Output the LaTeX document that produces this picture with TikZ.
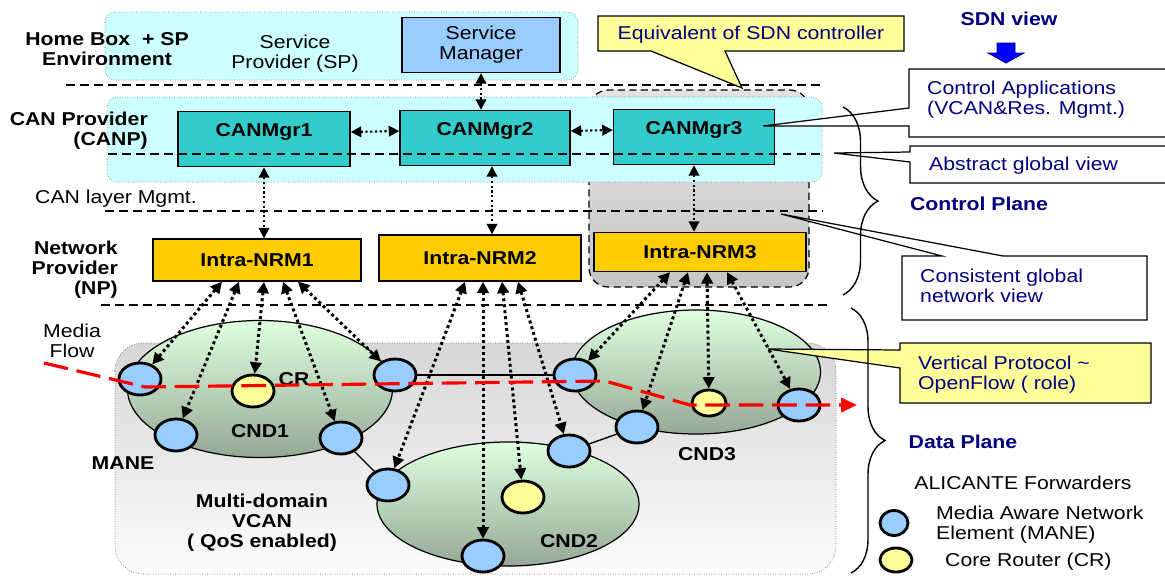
\documentclass[tikz,border=0pt]{standalone}
\usepackage{fontspec}
\setmainfont{Liberation Sans}[FakeStretch=1.14]
\usetikzlibrary{shapes.geometric,arrows.meta,calc,decorations.pathreplacing}
\definecolor{cyanbg}{HTML}{CCFFFF}
\definecolor{smblue}{HTML}{99CCFF}
\definecolor{mgrteal}{HTML}{33CCCC}
\definecolor{nrmgold}{HTML}{FFCC00}
\definecolor{noteyel}{HTML}{FFFF99}
\definecolor{navy}{HTML}{000080}
\definecolor{mintl}{HTML}{DFFFDF}
\definecolor{mintd}{HTML}{95A895}
\newlength\px
\setlength\px{0.02cm}
\newcommand\dfont{\fontsize{10.6}{11.4}\selectfont}

\begin{document}
\begin{tikzpicture}[x=0.02cm, y=-0.02cm, font=\dfont,
  mgr/.style={draw, line width=0.8pt, fill=mgrteal, font=\dfont\bfseries, text height=7.6pt, text depth=10.2pt, minimum height=55\px},
  nrm/.style={draw, line width=0.8pt, fill=nrmgold, font=\dfont\bfseries},
  mane/.style={ellipse, draw, line width=1.6pt, fill=smblue, inner sep=0pt, minimum width=42\px, minimum height=32\px},
  cr/.style={mane, fill=noteyel},
  cnd/.style={ellipse, draw, line width=0.7pt, top color=mintl, bottom color=mintd, inner sep=0pt},
  sep/.style={dash pattern=on 5pt off 3pt, line width=0.6pt},
  cp/.style={line width=1.2pt, dash pattern=on 1.2pt off 1.5pt, {Triangle[length=6pt,width=6pt]}-{Triangle[length=6pt,width=6pt]}},
  dp/.style={line width=1.7pt, dash pattern=on 1.7pt off 1.7pt, {Triangle[length=6.5pt,width=6.5pt]}-{Triangle[length=6.5pt,width=6.5pt]}},
  note/.style={draw, line width=0.7pt},
  tag/.style={font=\dfont\bfseries, align=center},
  navytxt/.style={text=navy, align=left, anchor=west},
  plane/.style={font=\dfont\bfseries, text=navy},
  flow/.style={red, line width=1.8pt, dash pattern=on 14pt off 5pt, -{Triangle[length=9pt,width=8pt]}},
]
\useasboundingbox (0,0) rectangle (1165,575);
\clip (0,0) rectangle (1165,575);

% home box + SP environment
\draw[fill=cyanbg, draw=gray, densely dotted, rounded corners=6pt] (105,12) rectangle (578,80);
\node[tag] (home) at (107,49) {Home Box\ \ + SP\\Environment};
\node[align=center] (sp) at (295,54) {Service\\Provider (SP)};
\node[draw, line width=0.8pt, fill=smblue, minimum width=158\px, minimum height=55\px, align=center] (sm) at (481,45) {Service\\Manager};

% SDN controller area
\draw[dash pattern=on 4pt off 2.5pt, line width=0.7pt, top color=gray!22, bottom color=gray!45, rounded corners=11pt] (589,90) rectangle (809,287);

% CAN provider
\draw[fill=cyanbg, draw=gray, densely dotted, rounded corners=6pt] (107,97) rectangle (822,182);
\node[tag, align=right, anchor=east] (canp) at (154,131) {CAN Provider\\(CANP)};
\node[mgr, minimum width=172\px] (cm1) at (264,139) {CANMgr1};
\node[mgr, minimum width=170\px] (cm2) at (485,138) {CANMgr2};
\node[mgr, minimum width=161\px] (cm3) at (694,137) {CANMgr3};

\draw[sep] (66,85) -- (820,85);
\draw[sep] (108,154) -- (822,154);
\draw[sep] (105,211) -- (822,211);
\draw[sep] (101,305) -- (828,305);
\node (canlayer) at (116,199) {CAN layer Mgmt.};

% network provider
\node[nrm, minimum width=208\px, minimum height=42\px] (nrm1) at (257,260) {Intra-NRM1};
\node[nrm, minimum width=202\px, minimum height=46\px] (nrm2) at (480,258) {Intra-NRM2};
\node[nrm, minimum width=212\px, minimum height=39\px] (nrm3) at (700,252) {Intra-NRM3};
\node[tag, align=right, anchor=east] (np) at (124,270) {Network\\Provider\\(NP)};

\draw[cp] (sm.south) -- (sm.south |- cm2.north);
\draw[cp] ($(cm1.east)+(0,-7)$) -- ($(cm2.west)+(0,-7)$);
\draw[cp] ($(cm2.east)+(0,-7)$) -- ($(cm3.west)+(0,-7)$);
\draw[cp] (cm1.south) -- (cm1.south |- nrm1.north);
\draw[cp] ($(cm2.south)+(7,0)$) -- ($(cm2.south |- nrm2.north)+(7,0)$);
\draw[cp] (cm3.south) -- (cm3.south |- nrm3.north);

% data plane
\draw[densely dotted, draw=gray!80!black, top color=gray!32, bottom color=gray!2, rounded corners=16pt] (115,343) rectangle (836,574);
\node[cnd, minimum width=265\px, minimum height=137\px] (cnd1) at (260,389) {};
\node[cnd, minimum width=262\px, minimum height=124\px] (cnd2) at (508,504) {};
\node[cnd, minimum width=249\px, minimum height=124\px] (cnd3) at (696,372) {};

\node[tag] (cnd1lbl) at (260,431) {CND1};
\node[tag] (crlbl) at (294,379) {CR};
\node[tag] (cnd2lbl) at (569,541) {CND2};
\node[tag] (cnd3lbl) at (707,454) {CND3};
\node[tag] (manelbl) at (123,463) {MANE};
\node[tag] (vcan) at (262,523) {Multi-domain\\VCAN\\( QoS enabled)};
\node[align=center] (media) at (72,341) {Media\\Flow};

\foreach \n/\x/\y in {m11/140/379, m12/176/435, m13/341/438, m14/395/375,
                      m21/388/485, m22/483/556, m23/569/451,
                      m31/575/375, m32/637/427, m33/799/405}
  \node[mane] (\n) at (\x,\y) {};
\node[cr] (cr1) at (253,391) {};
\node[cr] (cr2) at (523,497) {};
\node[cr, minimum width=34\px, minimum height=26\px] (cr3) at (709,403) {};

\draw[line width=0.8pt] (m14) -- (m31);
\draw[line width=0.8pt] (m13) -- (m21);
\draw[line width=0.8pt] (m23) -- (m32);

\foreach \dx/\t in {-35/m11, -18/m12, 7/cr1, 26/m13, 41/m14}
  \draw[dp] ($(nrm1.south)+(\dx,0)$) -- (\t);
\foreach \dx/\t in {-15/m21, 3/m22, 22/cr2, 38/m23}
  \draw[dp] ($(nrm2.south)+(\dx,0)$) -- (\t);
\foreach \dx/\t in {-30/m31, -12/m32, 7/cr3, 27/m33}
  \draw[dp] ($(nrm3.south)+(\dx,0)$) -- (\t);

% media flow
\coordinate (flowin) at (44,363);
\coordinate (flowout) at (857,405);
\draw[flow] (flowin) -- (145,387) -- (605,381) -- (690,405) -- (flowout);

% callouts
\draw[note, fill=noteyel] (598,16) -- (904,16) -- (904,51) -- (725,51) -- (742,88) -- (651,51) -- (598,51) -- cycle;
\node[text=navy] (equiv) at (751,35) {Equivalent of SDN controller};
\draw[note, fill=white] (909,69) -- (1175,69) -- (1175,137) -- (909,137) -- (909,126) -- (763,126) -- (909,108) -- cycle;
\node[navytxt] (ctlapp) at (921,100) {Control Applications\\(VCAN\&Res. Mgmt.)};
\draw[note, fill=white] (910,146) -- (1175,146) -- (1175,183) -- (910,183) -- (910,162) -- (834,153) -- (910,152) -- cycle;
\node[navytxt] (absview) at (923,166) {Abstract global view};
\draw[note, fill=white] (902,256) -- (942,256) -- (781,214) -- (1003,256) -- (1147,256) -- (1147,320) -- (902,320) -- cycle;
\node[navytxt] (consview) at (914,286) {Consistent global\\network view};
\draw[note, fill=noteyel] (900,343) -- (1151,343) -- (1151,403) -- (900,403) -- (900,368) -- (768,349) -- (900,350) -- cycle;
\node[navytxt] (vproto) at (912,375) {Vertical Protocol \textasciitilde\\OpenFlow ( role)};

% SDN view
\node[plane] (sdn) at (1009,19) {SDN view};
\draw[fill=blue, draw=navy, line width=0.5pt] (997,43) -- (1015,43) -- (1015,53) -- (1024,53) -- (1006,63) -- (988,53) -- (997,53) -- cycle;

% planes
\draw[line width=0.8pt, decorate, decoration={brace, amplitude=35\px}] (843,107) -- (843,295);
\draw[line width=0.8pt, decorate, decoration={brace, amplitude=34\px}] (851,308) -- (851,573);
\node[plane] (ctlplane) at (979,204) {Control Plane};
\node[plane] (dataplane) at (963,442) {Data Plane};

% legend
\node (alic) at (1023,483) {ALICANTE Forwarders};
\node[mane, minimum width=28\px, minimum height=25\px] (lgmane) at (894,523) {};
\node[align=left, anchor=west] (lgmanetxt) at (930,525) {Media Aware Network\\Element (MANE)};
\node[cr, minimum width=32\px, minimum height=24\px] (lgcr) at (896,560) {};
\node[anchor=west] (lgcrtxt) at (939,562) {Core Router (CR)};
\end{tikzpicture}
\end{document}
